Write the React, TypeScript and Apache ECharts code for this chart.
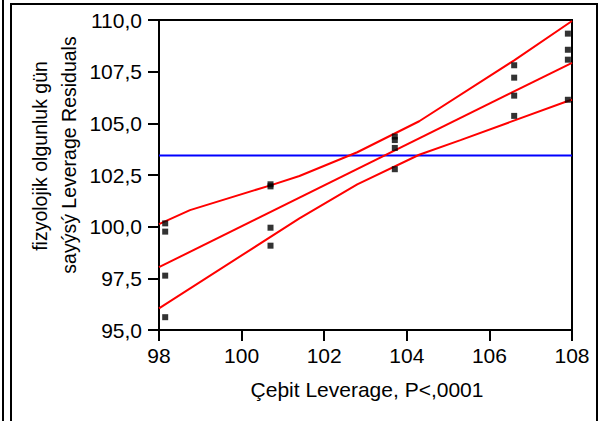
import React, { useEffect, useRef } from "react";
import * as echarts from "echarts";

const pointX = [
  98.15, 98.15, 98.15, 98.15,
  100.7, 100.7, 100.7, 100.7,
  103.71, 103.71, 103.71, 103.71,
  106.6, 106.6, 106.6, 106.6,
  107.9, 107.9, 107.9, 107.9,
];
const pointY = [
  100.16, 99.76, 97.63, 95.62,
  102.05, 101.95, 99.95, 99.08,
  104.36, 104.19, 103.81, 102.78,
  107.81, 107.21, 106.34, 105.36,
  109.34, 108.56, 108.08, 106.14,
];
const fitX = [98, 108];
const fitY = [98.04, 107.93];
const upperX = [98, 98.75, 100.7, 101.4, 102.8, 104.3, 106.6, 108];
const upperY = [100.12, 100.8, 102.0, 102.45, 103.6, 105.1, 108.05, 109.95];
const lowerX = [98, 101.4, 102.8, 104.3, 105.3, 107.9, 108];
const lowerY = [96.05, 100.4, 102.05, 103.48, 104.19, 106.08, 106.14];
const meanY = 103.44;
const xTitle = "Çeþit Leverage, P<,0001";
const yTitle1 = "fizyolojik olgunluk gün";
const yTitle2 = "sayýsý Leverage Residuals";

const FONT = "'Liberation Sans', Arial, sans-serif";

function pairs(xs: number[], ys: number[]) {
  return xs.map((x, i) => [x, ys[i]]);
}

export default function App() {
  const ref = useRef<HTMLDivElement>(null);
  useEffect(() => {
    document.body.style.margin = "0";
    const chart = echarts.init(ref.current!, null, { renderer: "svg" });
    const redLine = { color: "#ff0000", width: 2 };
    chart.setOption({
      animation: false,
      backgroundColor: "#ffffff",
      grid: {
        left: 159,
        top: 20,
        width: 413,
        height: 310,
        show: true,
        borderColor: "#000",
        borderWidth: 2,
      },
      xAxis: {
        type: "value",
        min: 98,
        max: 108,
        interval: 2,
        axisLine: { onZero: false, lineStyle: { color: "#000", width: 2 } },
        axisTick: { length: 11, lineStyle: { color: "#000", width: 2 } },
        axisLabel: { color: "#000", fontSize: 21, fontFamily: FONT, margin: 15 },
        splitLine: { show: false },
      },
      yAxis: {
        type: "value",
        min: 95,
        max: 110,
        interval: 2.5,
        axisLine: { show: true, onZero: false, lineStyle: { color: "#000", width: 2 } },
        axisTick: { show: true, length: 11, lineStyle: { color: "#000", width: 2 } },
        axisLabel: {
          color: "#000",
          fontSize: 21,
          fontFamily: FONT,
          margin: 17,
          formatter: (v: number) => v.toFixed(1).replace(".", ","),
        },
        splitLine: { show: false },
      },
      graphic: [
        { type: "line", shape: { x1: 3, y1: 0, x2: 3, y2: 421 }, style: { stroke: "#000", lineWidth: 2 } },
        { type: "rect", shape: { x: 11, y: 4, width: 586, height: 440 }, style: { fill: "none", stroke: "#000", lineWidth: 2 } },
        {
          type: "text",
          x: 367,
          y: 389,
          style: { text: xTitle, font: `21px ${FONT}`, fill: "#000", textAlign: "center", textVerticalAlign: "middle" },
        },
        {
          type: "text",
          x: 40,
          y: 156,
          rotation: Math.PI / 2,
          style: { text: yTitle1, font: `19.5px ${FONT}`, fill: "#000", textAlign: "center", textVerticalAlign: "middle" },
        },
        {
          type: "text",
          x: 69,
          y: 155,
          rotation: Math.PI / 2,
          style: { text: yTitle2, font: `19.5px ${FONT}`, fill: "#000", textAlign: "center", textVerticalAlign: "middle" },
        },
      ],
      series: [
        {
          type: "line",
          data: [[98, meanY], [108, meanY]],
          showSymbol: false,
          lineStyle: { color: "#0000ff", width: 2 },
          z: 2,
        },
        { type: "line", data: pairs(fitX, fitY), showSymbol: false, lineStyle: redLine, z: 3 },
        { type: "line", data: pairs(upperX, upperY), showSymbol: false, lineStyle: redLine, z: 3 },
        { type: "line", data: pairs(lowerX, lowerY), showSymbol: false, lineStyle: redLine, z: 3 },
        {
          type: "scatter",
          data: pairs(pointX, pointY),
          symbol: "rect",
          symbolSize: 6,
          itemStyle: { color: "#000" },
          z: 4,
        },
      ],
    });
    return () => chart.dispose();
  }, []);
  return <div ref={ref} style={{ width: 602, height: 421 }} />;
}
